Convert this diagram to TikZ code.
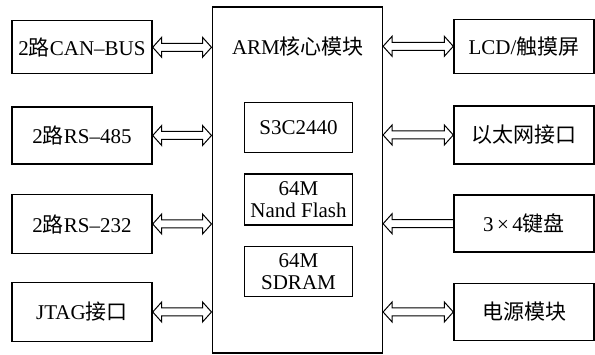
\documentclass[tikz,border=0pt]{standalone}
\usepackage{fontspec}
\setmainfont{Liberation Serif}
\newfontfamily\cjk{Noto Sans CJK SC}
\usetikzlibrary{calc}
\begin{document}
\begin{tikzpicture}[x=1pt,y=-1pt,
  txt/.style={inner sep=0pt, align=center, font=\fontsize{21}{22}\selectfont},
  box/.style={txt, draw, line width=1.4pt, minimum width=140pt},
  inbox/.style={txt, draw, line width=1.1pt, minimum width=108pt},
  dblarrow/.style={line width=1pt, line join=miter,
    to path={let \p1=(\tikztostart), \p2=(\tikztotarget) in
      (\x1,\y1) -- ({\x1+9pt},{\y1+10pt}) -- ({\x1+9pt},{\y1+4pt})
      -- ({\x2-9pt},{\y1+4pt}) -- ({\x2-9pt},{\y1+10pt}) -- (\x2,\y1)
      -- ({\x2-9pt},{\y1-10pt}) -- ({\x2-9pt},{\y1-4pt})
      -- ({\x1+9pt},{\y1-4pt}) -- ({\x1+9pt},{\y1-10pt}) -- cycle}},
  sglarrow/.style={line width=1pt, line join=miter,
    to path={let \p1=(\tikztostart), \p2=(\tikztotarget) in
      (\x1,{\y1+4pt}) -- ({\x2+9pt},{\y1+4pt}) -- ({\x2+9pt},{\y1+10pt})
      -- (\x2,\y1) -- ({\x2+9pt},{\y1-10pt}) -- ({\x2+9pt},{\y1-4pt})
      -- (\x1,{\y1-4pt})}},
]
\useasboundingbox (0,0) rectangle (595,355);

% central module
\node[txt, draw, line width=1.6pt, minimum width=170pt, minimum height=346pt] (arm) at (297.3,180.3) {};
\node[txt] (armlabel) at (298,47) {ARM{\cjk 核心模块}};
\node[inbox, minimum height=50pt] (cpu) at (298.5,127.7) {S3C2440};
\node[inbox, minimum height=51pt] (nand) at (298.5,199.5) {64M\\Nand Flash};
\node[inbox, minimum height=50pt] (sdram) at (298.5,271.7) {64M\\SDRAM};

% left boxes
\node[box, minimum height=53pt] (can) at (82,47.3) {2{\cjk 路}CAN–BUS};
\node[box, minimum height=57pt] (rsa) at (82,135.5) {2{\cjk 路}RS–485};
\node[box, minimum height=59pt] (rsb) at (82,224) {2{\cjk 路}RS–232};
\node[box, minimum height=59pt] (jtag) at (82,312) {JTAG{\cjk 接口}};

% right boxes
\node[box, minimum height=54pt] (lcd) at (524,46.3) {LCD/{\cjk 触摸屏}};
\node[box, minimum height=58pt] (eth) at (524,135) {{\cjk 以太网接口}};
\node[box, minimum height=57pt] (kbd) at (524,223.7) {3\,×\,4{\cjk 键盘}};
\node[box, minimum height=57pt] (pwr) at (524,312) {{\cjk 电源模块}};

% connectors
\draw[dblarrow] (can.east) to (arm.west |- can.east);
\draw[dblarrow] (rsa.east) to (arm.west |- rsa.east);
\draw[dblarrow] (rsb.east) to (arm.west |- rsb.east);
\draw[dblarrow] (jtag.east) to (arm.west |- jtag.east);
\draw[dblarrow] (arm.east |- lcd.west) to (lcd.west);
\draw[dblarrow] (arm.east |- eth.west) to (eth.west);
\draw[sglarrow] (kbd.west) to (arm.east |- kbd.west);
\draw[dblarrow] (arm.east |- pwr.west) to (pwr.west);
\end{tikzpicture}
\end{document}
